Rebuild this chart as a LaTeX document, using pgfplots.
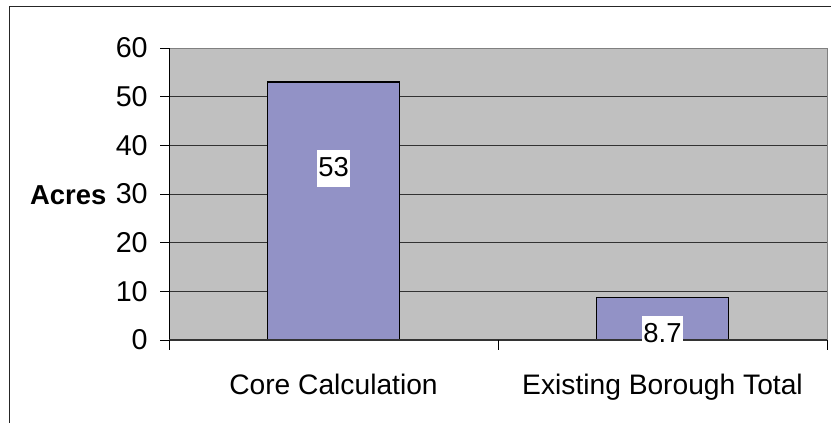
\documentclass[border=0pt]{standalone}
\usepackage{fontspec}
\setmainfont{Liberation Sans}
\usepackage{pgfplots}
\pgfplotsset{compat=1.18}
\definecolor{plotbg}{RGB}{192,192,192}
\definecolor{barfill}{RGB}{146,146,198}
\definecolor{gridc}{RGB}{50,50,50}
\begin{document}
\fontsize{27.5}{33}\selectfont
\begin{tikzpicture}[x=1bp,y=1bp]
\useasboundingbox (0,0) rectangle (831,422);
\draw[line width=1bp, black!85] (9,-5) -- (9,415) -- (840,415);
\begin{axis}[
  scale only axis, width=658bp, height=292bp,
  at={(169bp,82bp)}, anchor=south west,
  xmin=0, xmax=2, ymin=0, ymax=60,
  clip=false,
  axis background/.style={fill=plotbg},
  axis line style={draw=none},
  ytick={0,10,20,30,40,50,60},
  ytick pos=left, xtick pos=bottom,
  tick align=outside,
  major tick length=9bp,
  ytick style={black, line width=0.8bp},
  xtick style={draw=none},
  ymajorgrids, grid style={gridc, line width=0.8bp},
  xtick={0.5,1.5},
  xticklabels={Core Calculation, Existing Borough Total},
  xticklabel style={anchor=base, yshift=-45bp, font=\fontsize{28.3}{34}\selectfont},
  yticklabel style={anchor=east, xshift=-3bp, font=\fontsize{28.8}{34}\selectfont},
  /pgf/number format/assume math mode=true,
  ybar, bar width=132bp,
]
\addplot[fill=barfill, draw=black, line width=1.3bp] coordinates {(0.5,53) (1.5,8.7)};
\draw[gray, line width=1bp] (rel axis cs:0,1) -- (rel axis cs:1,1) -- (rel axis cs:1,0);
\draw[black, line width=1bp] (rel axis cs:0,1) -- (rel axis cs:0,0);
\draw[black!80, line width=1.2bp] (rel axis cs:0,0) -- (rel axis cs:1,0);
\draw[black, line width=0.8bp] (axis cs:0,0) -- ++(0,-10bp) (axis cs:1,0) -- ++(0,-10bp) (axis cs:2,0) -- ++(0,-10bp);
\node[fill=white, inner sep=0pt, inner xsep=1bp, text height=27bp, text depth=10bp, anchor=base] at (axis cs:0.5,33.5) {53};
\node[fill=white, inner sep=0pt, inner xsep=1bp, text height=27bp, text depth=1bp, anchor=base] at (axis cs:1.5,-0.6) {8.7};
\end{axis}
\node[anchor=base west, inner sep=0pt, font=\bfseries\fontsize{27.5}{33}\selectfont] at (30,422-204) {Acres};
\end{tikzpicture}
\end{document}
